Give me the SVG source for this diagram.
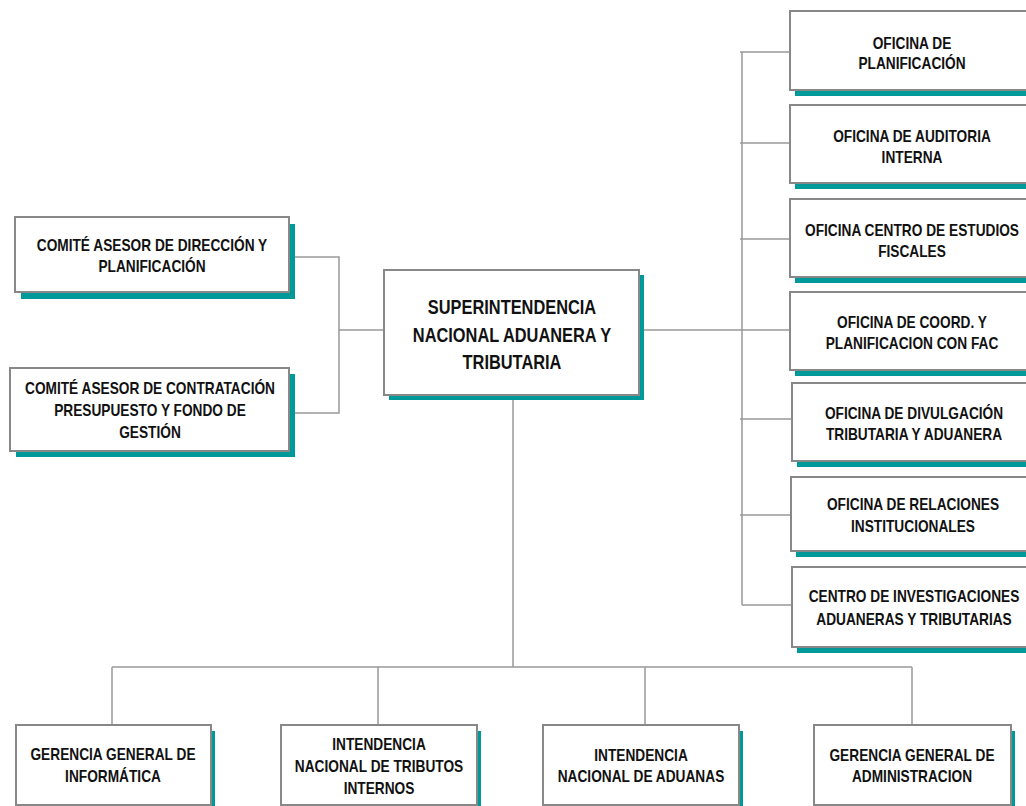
<svg xmlns="http://www.w3.org/2000/svg" width="1026" height="806" viewBox="0 0 1026 806">
<style>
.bg{fill:#ffffff}
.sh{fill:#009999}
.bx{fill:#ffffff;stroke:#888888;stroke-width:2}
.ln{fill:none;stroke:#999999;stroke-width:1.5}
.t{font-family:"Liberation Sans",Arial,sans-serif;font-weight:bold;font-size:16.7px;text-anchor:middle;fill:#111111}
.tc{font-size:20px}
</style>
<rect class="bg" x="0" y="0" width="1026" height="806"/>
<g id="connectors">
<polyline class="ln" points="289,257 339,257 339,413 289,413"/>
<line class="ln" x1="339" y1="330" x2="384" y2="330"/>
<line class="ln" x1="639" y1="330" x2="742" y2="330"/>
<line class="ln" x1="742" y1="52" x2="742" y2="605"/>
<line class="ln" x1="740" y1="52" x2="790" y2="52"/>
<line class="ln" x1="740" y1="143" x2="790" y2="143"/>
<line class="ln" x1="740" y1="239" x2="790" y2="239"/>
<line class="ln" x1="742" y1="330" x2="790" y2="330"/>
<line class="ln" x1="740" y1="419" x2="792" y2="419"/>
<line class="ln" x1="740" y1="515" x2="791" y2="515"/>
<line class="ln" x1="742" y1="605" x2="792" y2="605"/>
<line class="ln" x1="513" y1="395" x2="513" y2="667"/>
<line class="ln" x1="112" y1="667" x2="912" y2="667"/>
<line class="ln" x1="112" y1="667" x2="112" y2="725"/>
<line class="ln" x1="378" y1="667" x2="378" y2="725"/>
<line class="ln" x1="645" y1="667" x2="645" y2="725"/>
<line class="ln" x1="912" y1="667" x2="912" y2="725"/>
</g>
<g id="comite-direccion">
<rect class="sh" x="21" y="224" width="274" height="75"/>
<rect class="bx" x="15" y="217" width="274" height="75"/>
<text class="t" transform="translate(152 251) scale(0.82 1)">COMITÉ ASESOR DE DIRECCIÓN Y</text>
<text class="t" transform="translate(152 272) scale(0.82 1)">PLANIFICACIÓN</text>
</g>
<g id="comite-contratacion">
<rect class="sh" x="16" y="374" width="279" height="83"/>
<rect class="bx" x="10" y="368" width="279" height="83"/>
<text class="t" transform="translate(150 394) scale(0.82 1)">COMITÉ ASESOR DE CONTRATACIÓN</text>
<text class="t" transform="translate(150 416) scale(0.82 1)">PRESUPUESTO Y FONDO DE</text>
<text class="t" transform="translate(150 438) scale(0.82 1)">GESTIÓN</text>
</g>
<g id="superintendencia">
<rect class="sh" x="389" y="275" width="255" height="125"/>
<rect class="bx" x="384" y="270" width="255" height="125"/>
<text class="t tc" transform="translate(512 314) scale(0.82 1)">SUPERINTENDENCIA</text>
<text class="t tc" transform="translate(512 342) scale(0.82 1)">NACIONAL ADUANERA Y</text>
<text class="t tc" transform="translate(512 369) scale(0.82 1)">TRIBUTARIA</text>
</g>
<g id="oficina-planificacion">
<rect class="sh" x="795" y="17" width="246" height="79"/>
<rect class="bx" x="790" y="11" width="246" height="79"/>
<text class="t" transform="translate(912 49) scale(0.82 1)">OFICINA DE</text>
<text class="t" transform="translate(912 69) scale(0.82 1)">PLANIFICACIÓN</text>
</g>
<g id="oficina-auditoria">
<rect class="sh" x="795" y="111" width="246" height="78"/>
<rect class="bx" x="790" y="105" width="246" height="78"/>
<text class="t" transform="translate(912 142) scale(0.82 1)">OFICINA DE AUDITORIA</text>
<text class="t" transform="translate(912 163) scale(0.82 1)">INTERNA</text>
</g>
<g id="oficina-estudios">
<rect class="sh" x="795" y="205" width="246" height="78"/>
<rect class="bx" x="790" y="199" width="246" height="78"/>
<text class="t" transform="translate(912 236) scale(0.82 1)">OFICINA CENTRO DE ESTUDIOS</text>
<text class="t" transform="translate(912 257) scale(0.82 1)">FISCALES</text>
</g>
<g id="oficina-coord">
<rect class="sh" x="795" y="298" width="246" height="78"/>
<rect class="bx" x="790" y="292" width="246" height="78"/>
<text class="t" transform="translate(912 328) scale(0.82 1)">OFICINA DE COORD. Y</text>
<text class="t" transform="translate(912 349) scale(0.82 1)">PLANIFICACION CON FAC</text>
</g>
<g id="oficina-divulgacion">
<rect class="sh" x="797" y="389" width="246" height="78"/>
<rect class="bx" x="792" y="383" width="246" height="78"/>
<text class="t" transform="translate(914 419) scale(0.82 1)">OFICINA DE DIVULGACIÓN</text>
<text class="t" transform="translate(914 440) scale(0.82 1)">TRIBUTARIA Y ADUANERA</text>
</g>
<g id="oficina-relaciones">
<rect class="sh" x="796" y="483" width="246" height="74"/>
<rect class="bx" x="791" y="477" width="246" height="74"/>
<text class="t" transform="translate(913 510) scale(0.82 1)">OFICINA DE RELACIONES</text>
<text class="t" transform="translate(913 532) scale(0.82 1)">INSTITUCIONALES</text>
</g>
<g id="centro-investigaciones">
<rect class="sh" x="797" y="573" width="246" height="80"/>
<rect class="bx" x="792" y="567" width="246" height="80"/>
<text class="t" transform="translate(914 602) scale(0.82 1)">CENTRO DE INVESTIGACIONES</text>
<text class="t" transform="translate(914 625) scale(0.82 1)">ADUANERAS Y TRIBUTARIAS</text>
</g>
<g id="gerencia-informatica">
<rect class="sh" x="20" y="731" width="195" height="80"/>
<rect class="bx" x="16" y="725" width="195" height="80"/>
<text class="t" transform="translate(113 760) scale(0.82 1)">GERENCIA GENERAL DE</text>
<text class="t" transform="translate(113 782) scale(0.82 1)">INFORMÁTICA</text>
</g>
<g id="intendencia-tributos">
<rect class="sh" x="285" y="731" width="196" height="80"/>
<rect class="bx" x="281" y="725" width="196" height="80"/>
<text class="t" transform="translate(379 750) scale(0.82 1)">INTENDENCIA</text>
<text class="t" transform="translate(379 772) scale(0.82 1)">NACIONAL DE TRIBUTOS</text>
<text class="t" transform="translate(379 794) scale(0.82 1)">INTERNOS</text>
</g>
<g id="intendencia-aduanas">
<rect class="sh" x="547" y="731" width="196" height="80"/>
<rect class="bx" x="543" y="725" width="196" height="80"/>
<text class="t" transform="translate(641 761) scale(0.82 1)">INTENDENCIA</text>
<text class="t" transform="translate(641 782) scale(0.82 1)">NACIONAL DE ADUANAS</text>
</g>
<g id="gerencia-administracion">
<rect class="sh" x="818" y="731" width="197" height="80"/>
<rect class="bx" x="814" y="725" width="197" height="80"/>
<text class="t" transform="translate(912 761) scale(0.82 1)">GERENCIA GENERAL DE</text>
<text class="t" transform="translate(912 782) scale(0.82 1)">ADMINISTRACION</text>
</g>
</svg>
